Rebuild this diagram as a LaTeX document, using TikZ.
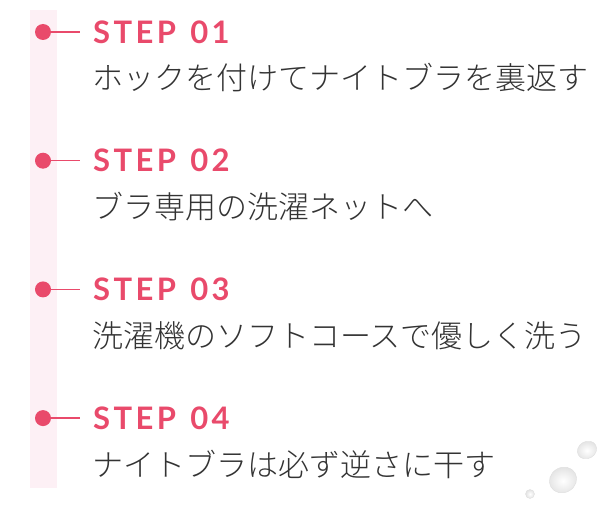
\documentclass[tikz,border=0pt]{standalone}
\usepackage{fontspec}
\setmainfont{Noto Sans CJK JP}[UprightFont=* Light]
\newfontfamily\stepfont{Lato}[LetterSpace=11, WordSpace=1.3]
\definecolor{stepred}{HTML}{E94A6B}
\definecolor{bandpink}{HTML}{FDF0F5}
\definecolor{textgray}{HTML}{333333}

\begin{document}
\begin{tikzpicture}[x=1pt,y=-1pt,
    stepdot/.style={circle, fill=stepred, minimum size=16pt, inner sep=0pt},
    stepline/.style={stepred, line width=1.6pt},
    steplabel/.style={anchor=west, inner sep=0pt, text=stepred,
        font=\stepfont\bfseries\fontsize{31}{31}\selectfont},
    steptext/.style={anchor=west, inner sep=0pt, text=textgray,
        font=\fontsize{31}{31}\selectfont},
    drop/.style={inner color=white, outer color=gray!22}]
    \useasboundingbox (0,0) rectangle (616,508);

    % pink band behind the dots
    \fill[bandpink] (30,10) rectangle (57,488);

    \foreach \i/\txt in {1/ホックを付けてナイトブラを裏返す,
                         2/ブラ専用の洗濯ネットへ,
                         3/洗濯機のソフトコースで優しく洗う,
                         4/ナイトブラは必ず逆さに干す} {
        \pgfmathsetmacro\yy{32+128.7*(\i-1)}
        \node[stepdot] (dot\i) at (43,\yy) {};
        \coordinate (tick\i) at (80,\yy);
        \draw[stepline] (dot\i) -- (tick\i);
        \node[steplabel] (step\i) at (93,\yy) {STEP 0\i};
        \node[steptext] (text\i) at (92,\yy+46) {\txt};
    }

    % water drops
    \shade[drop, rotate around={30:(563,480)}] (563,480) ellipse (14 and 12.5);
    \draw[gray!25, rotate around={30:(563,480)}] (563,480) ellipse (14 and 12.5);
    \shade[drop, rotate around={30:(587,450)}] (587,450) ellipse (10 and 8.5);
    \draw[gray!25, rotate around={30:(587,450)}] (587,450) ellipse (10 and 8.5);
    \shade[drop] (530,494) circle (4.5);
    \draw[gray!25] (530,494) circle (4.5);
\end{tikzpicture}
\end{document}
